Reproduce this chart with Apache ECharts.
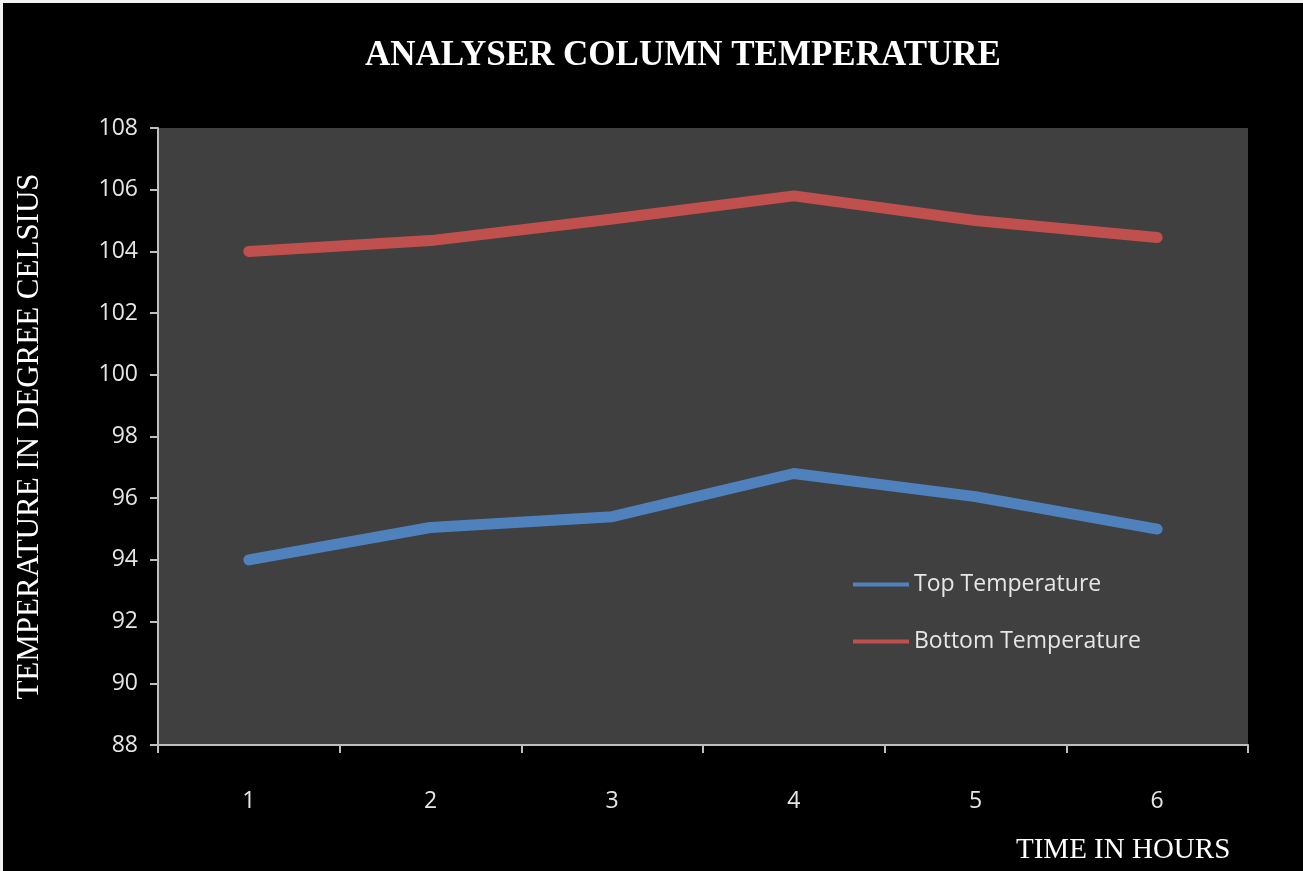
<!DOCTYPE html>
<html>
<head>
<meta charset="utf-8">
<script src="https://cdn.jsdelivr.net/npm/echarts@6/dist/echarts.min.js"></script>
<style>
  html, body { margin: 0; padding: 0; background: #f2f2f2; }
  #chart { position: absolute; left: 3px; top: 3px; width: 1300px; height: 868px; background: #000; }
</style>
</head>
<body>
<div id="chart"></div>
<script>
const hours = ['1', '2', '3', '4', '5', '6'];
const topTemp = [94.0, 95.05, 95.4, 96.8, 96.05, 95.0];
const bottomTemp = [104.0, 104.35, 105.05, 105.8, 105.0, 104.45];

const myChart = echarts.init(document.getElementById('chart'));
const serif = '"Liberation Serif", "Times New Roman", serif';
const sans = '"Open Sans", "Liberation Sans", sans-serif';

const option = {
  backgroundColor: '#000',
  title: [
    {
      text: 'ANALYSER COLUMN TEMPERATURE',
      left: 357,
      top: 30,
      textStyle: { color: '#fff', fontFamily: serif, fontWeight: 'bold', fontSize: 35 }
    },
    {
      text: 'TIME IN HOURS',
      left: 1008,
      top: 828,
      textStyle: { color: '#fff', fontFamily: serif, fontWeight: 'normal', fontSize: 29 }
    }
  ],
  legend: {
    orient: 'vertical',
    left: 845,
    top: 565,
    icon: 'rect',
    itemWidth: 56,
    itemHeight: 4,
    itemGap: 34,
    textStyle: { color: '#e6e6e6', fontFamily: sans, fontSize: 23 },
    data: ['Top Temperature', 'Bottom Temperature']
  },
  grid: {
    left: 155, top: 125, right: 55, bottom: 126,
    show: true, backgroundColor: '#404040', borderWidth: 0
  },
  xAxis: {
    type: 'category',
    data: hours,
    boundaryGap: true,
    axisLine: { lineStyle: { color: '#bfbfbf', width: 2 } },
    axisTick: { show: true, length: 8, lineStyle: { color: '#bfbfbf', width: 2 } },
    axisLabel: { color: '#e6e6e6', fontFamily: sans, fontSize: 23, margin: 45 },
    splitLine: { show: false }
  },
  yAxis: {
    type: 'value',
    min: 88,
    max: 108,
    interval: 2,
    name: 'TEMPERATURE IN DEGREE CELSIUS',
    nameLocation: 'middle',
    nameRotate: 90,
    nameGap: 113,
    nameTextStyle: { color: '#fff', fontFamily: serif, fontSize: 31 },
    axisLine: { show: true, lineStyle: { color: '#bfbfbf', width: 2 } },
    axisTick: { show: true, length: 8, lineStyle: { color: '#bfbfbf', width: 2 } },
    axisLabel: { color: '#e6e6e6', fontFamily: sans, fontSize: 23, margin: 20 },
    splitLine: { show: false }
  },
  series: [
    {
      name: 'Top Temperature',
      type: 'line',
      data: topTemp,
      symbol: 'none',
      itemStyle: { color: '#4f81bd' },
      lineStyle: { color: '#4f81bd', width: 11, cap: 'round', join: 'round' }
    },
    {
      name: 'Bottom Temperature',
      type: 'line',
      data: bottomTemp,
      symbol: 'none',
      itemStyle: { color: '#c0504d' },
      lineStyle: { color: '#c0504d', width: 11, cap: 'round', join: 'round' }
    }
  ]
};

option && myChart.setOption(option);
</script>
</body>
</html>
